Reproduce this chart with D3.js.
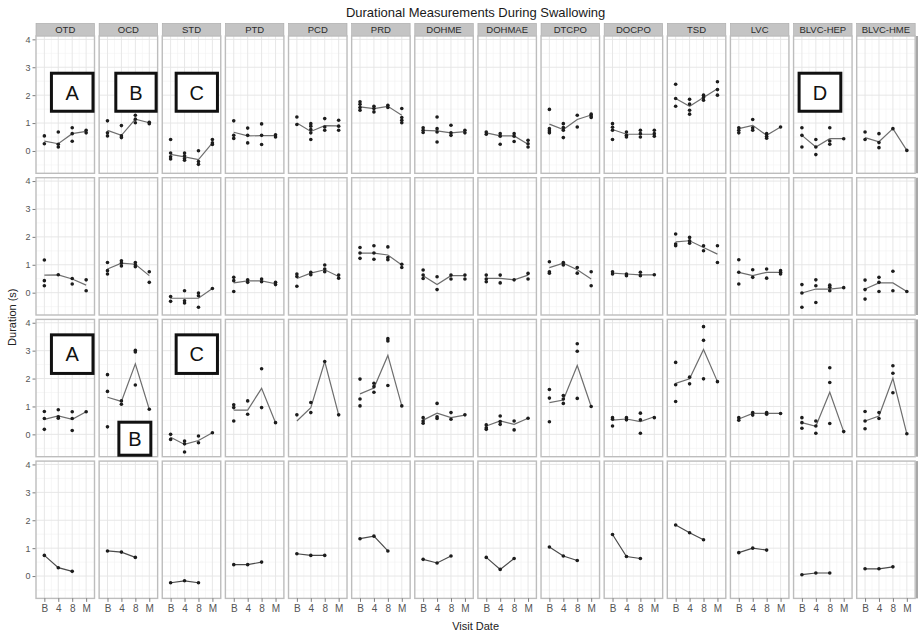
<!DOCTYPE html>
<html>
<head>
<meta charset="utf-8">
<script src="https://cdn.jsdelivr.net/npm/d3@7"></script>
<style>
  html, body { margin: 0; padding: 0; background: #fff; }
  svg { display: block; font-family: "Liberation Sans", Arial, sans-serif; }
</style>
</head>
<body>
<svg id="chart" width="918" height="633"></svg>
<script>
// ---------------- DATA ----------------
const visits = ["B", "4", "8", "M"];
const measures = ["OTD", "OCD", "STD", "PTD", "PCD", "PRD", "DOHME", "DOHMAE", "DTCPO", "DOCPO", "TSD", "LVC", "BLVC-HEP", "BLVC-HME"];
const yTicks = [0, 1, 2, 3, 4];
const title = "Durational Measurements During Swallowing";
const xTitle = "Visit Date";
const yTitle = "Duration (s)";

// individual measurements, per measure -> per visit
const row1Dots = [
  [[0.54, 0.26], [0.68, 0.24, 0.14], [0.83, 0.62, 0.35], [0.74, 0.65]],
  [[1.08, 0.65, 0.54], [0.91, 0.54, 0.48], [1.28, 1.14, 1.01], [1.03, 0.98]],
  [[0.41, -0.07, -0.21, -0.29], [-0.07, -0.17, -0.27, -0.33], [0.01, -0.38, -0.48], [0.41, 0.29, 0.23]],
  [[1.08, 0.56, 0.45], [0.82, 0.56, 0.29], [0.97, 0.56, 0.23], [0.58, 0.50]],
  [[1.22, 0.95], [0.98, 0.89, 0.77, 0.65, 0.41], [1.16, 0.86, 0.74], [1.10, 0.89, 0.74]],
  [[1.76, 1.67, 1.56, 1.46], [1.60, 1.52, 1.40], [1.64, 1.56], [1.52, 1.20, 1.10, 1.01]],
  [[0.83, 0.74, 0.66], [1.22, 0.80, 0.68, 0.32], [0.92, 0.65, 0.56], [0.74, 0.65]],
  [[0.68, 0.60], [0.62, 0.53, 0.24], [0.62, 0.53, 0.34], [0.38, 0.26, 0.14]],
  [[1.49, 0.80, 0.72, 0.65], [0.98, 0.84, 0.74, 0.48], [1.28, 0.86], [1.32, 1.25, 1.20]],
  [[0.98, 0.85, 0.74, 0.41], [0.68, 0.56, 0.50], [0.74, 0.62, 0.50], [0.74, 0.62, 0.53]],
  [[2.39, 1.88, 1.60], [1.85, 1.68, 1.46, 1.32], [2.00, 1.92, 1.82], [2.48, 2.20, 2.00]],
  [[0.83, 0.74, 0.65], [1.13, 0.83, 0.74], [0.62, 0.53, 0.46], [0.86]],
  [[0.83, 0.56, 0.14], [0.41, 0.14, -0.13], [0.83, 0.36, 0.24], [0.44]],
  [[0.68, 0.41], [0.62, 0.30, 0.12], [0.80], [0.02]]
];
const row1Means = [
  [0.35, 0.26, 0.62, 0.70], [0.74, 0.56, 1.14, 1.01], [-0.12, -0.21, -0.31, 0.29], [0.67, 0.54, 0.55, 0.55],
  [1.00, 0.70, 0.91, 0.90], [1.58, 1.52, 1.60, 1.28], [0.74, 0.72, 0.65, 0.69], [0.65, 0.54, 0.54, 0.24],
  [0.96, 0.77, 1.13, 1.29], [0.77, 0.60, 0.60, 0.60], [1.88, 1.60, 1.92, 2.23], [0.80, 0.92, 0.56, 0.86],
  [0.56, 0.14, 0.44, 0.44], [0.48, 0.33, 0.80, 0.02]
];

const row2Dots = [
  [[1.17, 0.43, 0.25], [0.64], [0.51, 0.31], [0.46, 0.07]],
  [[1.08, 0.79, 0.67], [1.14, 1.06, 0.96], [1.08, 1.00, 0.93], [0.75, 0.37]],
  [[-0.14, -0.31], [0.07, -0.29, -0.37], [-0.01, -0.11, -0.52], [0.15]],
  [[0.55, 0.43, 0.04], [0.46, 0.37], [0.49, 0.39], [0.37, 0.29]],
  [[0.67, 0.58, 0.23], [0.73, 0.64], [0.99, 0.85, 0.75], [0.63, 0.52]],
  [[1.62, 1.42, 1.23], [1.68, 1.42, 1.20], [1.64, 1.26, 1.18], [1.02, 0.90]],
  [[0.81, 0.63, 0.51], [0.57, 0.11], [0.63, 0.49], [0.63, 0.49]],
  [[0.63, 0.49, 0.39], [0.63, 0.35], [0.46], [0.69, 0.49]],
  [[1.11, 0.75, 0.70], [1.08, 0.99], [0.90, 0.70], [0.75, 0.25]],
  [[0.75, 0.67], [0.67, 0.61], [0.73, 0.61], [0.64]],
  [[2.10, 1.74, 1.68], [1.98, 1.86, 1.77], [1.68, 1.50], [1.68, 1.08]],
  [[1.18, 0.73, 0.31], [0.82, 0.55], [0.85, 0.52], [0.79, 0.73, 0.67]],
  [[0.29, -0.01, -0.52], [0.46, 0.25, -0.35], [0.27, 0.19, 0.07], [0.18]],
  [[0.45, 0.11, -0.23], [0.55, 0.37, 0.04], [0.77, 0.07], [0.04]]
];
const row2Means = [
  [0.63, 0.64, 0.49, 0.27], [0.85, 1.06, 1.02, 0.61], [-0.20, -0.20, -0.20, 0.15], [0.35, 0.42, 0.42, 0.32],
  [0.51, 0.70, 0.82, 0.58], [1.42, 1.42, 1.35, 0.99], [0.61, 0.29, 0.61, 0.61], [0.51, 0.51, 0.46, 0.63],
  [0.90, 1.06, 0.82, 0.49], [0.70, 0.67, 0.64, 0.64], [1.82, 1.86, 1.62, 1.38], [0.73, 0.61, 0.73, 0.73],
  [-0.01, 0.13, 0.13, 0.18], [0.13, 0.35, 0.35, 0.04]
];

const row3Dots = [
  [[0.82, 0.57, 0.18], [0.88, 0.63, 0.58], [0.81, 0.57, 0.14], [0.81]],
  [[2.14, 1.54, 0.27], [1.20, 1.08], [3.01, 2.95, 1.77], [0.90]],
  [[0.00, -0.18], [-0.24, -0.34, -0.63], [-0.06, -0.30], [0.06]],
  [[1.06, 0.96, 0.48], [1.20, 0.72], [2.35, 0.96], [0.42]],
  [[0.70], [1.14, 0.78], [2.61], [0.70]],
  [[1.98, 1.27, 1.02], [1.83, 1.71, 1.51], [3.43, 3.35, 1.75], [1.02]],
  [[0.60, 0.48, 0.40], [1.11, 0.63, 0.57], [0.78, 0.54], [0.70]],
  [[0.34, 0.24, 0.18], [0.66, 0.46, 0.36], [0.48, 0.16], [0.58]],
  [[1.61, 1.30, 0.45], [1.39, 1.27, 1.11], [3.25, 2.98, 1.29], [1.00]],
  [[0.60, 0.54, 0.30], [0.60, 0.52], [0.76, 0.52, 0.04], [0.60]],
  [[2.58, 1.78, 1.18], [2.05, 1.81], [3.86, 3.37, 1.99], [1.89]],
  [[0.60, 0.51], [0.78, 0.69], [0.78, 0.72], [0.75]],
  [[0.60, 0.42, 0.22], [0.48, 0.30, 0.04], [2.39, 1.86, 0.39], [0.10]],
  [[0.82, 0.48, 0.20], [0.78, 0.57], [2.46, 2.19, 1.49], [0.02]]
];
const row3Means = [
  [0.54, 0.66, 0.54, 0.81], [1.33, 1.18, 2.53, 0.90], [-0.10, -0.36, -0.22, 0.06], [0.87, 0.87, 1.65, 0.42],
  [0.48, 0.96, 2.61, 0.70], [1.45, 1.66, 2.83, 1.02], [0.51, 0.76, 0.60, 0.69], [0.30, 0.48, 0.36, 0.58],
  [1.14, 1.23, 2.47, 1.00], [0.51, 0.55, 0.46, 0.63], [1.83, 1.99, 3.04, 1.89], [0.55, 0.75, 0.75, 0.75],
  [0.42, 0.29, 1.51, 0.10], [0.48, 0.66, 2.01, 0.02]
];

// row 4: single value per visit (no M visit)
const row4Means = [
  [0.74, 0.30, 0.17], [0.90, 0.86, 0.67], [-0.24, -0.17, -0.24], [0.41, 0.41, 0.50],
  [0.80, 0.74, 0.74], [1.34, 1.43, 0.90], [0.60, 0.47, 0.72], [0.67, 0.24, 0.63],
  [1.04, 0.72, 0.56], [1.49, 0.70, 0.63], [1.83, 1.55, 1.30], [0.84, 1.00, 0.93],
  [0.05, 0.11, 0.11], [0.26, 0.26, 0.33]
];

// labelled boxes: row, column, extent in visit-index units (x) and seconds (y)
const boxLabels = ["A", "B", "C", "D", "A", "C", "B"];
const boxRows = [0, 0, 0, 0, 2, 2, 2];
const boxCols = [0, 1, 2, 12, 0, 2, 1];
const boxX = [[1.40, 4.6], [1.49, 4.6], [1.29, 4.47], [0.69, 3.9], [1.40, 4.6], [1.29, 4.47], [1.71, 4.22]];
const boxY = [[2.84, 1.37], [2.84, 1.37], [2.84, 1.37], [2.84, 1.37], [3.62, 2.13], [3.62, 2.13], [0.49, -0.80]];

// ---------------- LAYOUT ----------------
const svg = d3.select("#chart");
const padL = 36, padT = 36, colPitch = 63.13, panelW = 58.5;
const rowH = 137.3, rowGap = 4.4;
const nRows = 4;

const x = d3.scalePoint().domain(visits).range([0, panelW]).padding(0.6);
const xLin = d3.scaleLinear().domain([0.4, 4.6]).range([0, panelW]);
const y = d3.scaleLinear().domain([-0.8, 4.12]).range([rowH, 0]);

const rows = [
  { dots: row1Dots, means: row1Means },
  { dots: row2Dots, means: row2Means },
  { dots: row3Dots, means: row3Means },
  { dots: null, means: row4Means }
];

const dotColor = "#1c1c1c";
const lineColor = "#6e6e6e";
const plotW = 13 * colPitch + panelW;

// title
svg.append("text").attr("x", padL + plotW / 2).attr("y", 16.5)
  .attr("text-anchor", "middle").attr("font-size", 13).attr("fill", "#1a1a1a").text(title);

// strips
measures.forEach((m, c) => {
  const gx = padL + c * colPitch;
  svg.append("rect").attr("x", gx).attr("y", 23.3).attr("width", panelW).attr("height", 13)
    .attr("fill", "#c4c4c4").attr("stroke", "#aaaaaa").attr("stroke-width", 0.6);
  svg.append("text").attr("x", gx + panelW / 2).attr("y", 33.3).attr("text-anchor", "middle")
    .attr("font-size", 9.5).attr("fill", "#2a2a2a").text(m);
});

const minorY = d3.range(-0.5, 4.01, 1);
const minorX = [1.5, 2.5, 3.5];

for (let r = 0; r < nRows; r++) {
  const gy = padT + r * (rowH + rowGap);
  const rowData = rows[r];

  // y axis
  const yAxis = svg.append("g").attr("transform", `translate(${padL},${gy})`)
    .call(d3.axisLeft(y).tickValues(yTicks).tickFormat(d3.format("d")).tickSize(3.5).tickPadding(2));
  yAxis.select(".domain").remove();
  yAxis.selectAll("line").attr("stroke", "#5a5a5a").attr("stroke-width", 0.8);
  yAxis.selectAll("text").attr("font-size", 9).attr("fill", "#555")
    .attr("font-family", "Liberation Sans, Arial, sans-serif");

  // right-edge cut strip
  svg.append("rect").attr("x", 916).attr("y", gy).attr("width", 2.5).attr("height", rowH).attr("fill", "#a8a8a8");

  measures.forEach((m, c) => {
    const gx = padL + c * colPitch;
    const g = svg.append("g").attr("transform", `translate(${gx},${gy})`);
    g.append("rect").attr("width", panelW).attr("height", rowH).attr("fill", "#fff");

    // minor grid
    g.selectAll(".minY").data(minorY).join("line")
      .attr("x1", 0).attr("x2", panelW).attr("y1", d => y(d)).attr("y2", d => y(d))
      .attr("stroke", "#f1f1f1").attr("stroke-width", 0.6);
    g.selectAll(".minX").data(minorX).join("line")
      .attr("y1", 0).attr("y2", rowH).attr("x1", d => xLin(d)).attr("x2", d => xLin(d))
      .attr("stroke", "#f1f1f1").attr("stroke-width", 0.6);
    // major grid
    g.selectAll(".majY").data(yTicks).join("line")
      .attr("x1", 0).attr("x2", panelW).attr("y1", d => y(d)).attr("y2", d => y(d))
      .attr("stroke", "#e4e4e4").attr("stroke-width", 0.9);
    g.selectAll(".majX").data(visits).join("line")
      .attr("y1", 0).attr("y2", rowH).attr("x1", d => x(d)).attr("x2", d => x(d))
      .attr("stroke", "#e4e4e4").attr("stroke-width", 0.9);

    // mean line
    const means = rowData.means[c];
    const linePts = means.map((v, i) => [visits[i], v]);
    g.append("path").datum(linePts)
      .attr("d", d3.line().x(d => x(d[0])).y(d => y(d[1])))
      .attr("fill", "none").attr("stroke", r === 3 ? "#4a4a4a" : lineColor)
      .attr("stroke-width", 1.2);

    // dots
    let dotPts;
    if (rowData.dots) {
      dotPts = [];
      rowData.dots[c].forEach((vals, i) => vals.forEach(v => dotPts.push([visits[i], v])));
    } else {
      dotPts = linePts;
    }
    g.selectAll(".dot").data(dotPts).join("circle")
      .attr("cx", d => x(d[0])).attr("cy", d => y(d[1])).attr("r", 1.8).attr("fill", dotColor);

    // border
    g.append("rect").attr("x", 0).attr("y", 0).attr("width", panelW).attr("height", rowH)
      .attr("fill", "none").attr("stroke", "#bdbdbd").attr("stroke-width", 1.4);

    // x axis on bottom row
    if (r === nRows - 1) {
      const xa = svg.append("g").attr("transform", `translate(${gx},${gy + rowH})`)
        .call(d3.axisBottom(x).tickSize(3.5).tickPadding(3));
      xa.select(".domain").remove();
      xa.selectAll("line").attr("stroke", "#5a5a5a").attr("stroke-width", 0.8);
      xa.selectAll("text").attr("font-size", 10).attr("fill", "#555")
        .attr("font-family", "Liberation Sans, Arial, sans-serif");
    }
  });
}

// annotation boxes
boxLabels.forEach((lab, i) => {
  const gx = padL + boxCols[i] * colPitch;
  const gy = padT + boxRows[i] * (rowH + rowGap);
  const x0 = gx + xLin(boxX[i][0]), x1 = gx + xLin(boxX[i][1]);
  const y0 = gy + y(boxY[i][0]), y1 = gy + y(boxY[i][1]);
  svg.append("rect").attr("x", x0 + 1.5).attr("y", y0 + 1.5)
    .attr("width", x1 - x0 - 3).attr("height", y1 - y0 - 3)
    .attr("fill", "#fff").attr("stroke", "#111").attr("stroke-width", 3);
  svg.append("text").attr("x", (x0 + x1) / 2).attr("y", (y0 + y1) / 2 + 7.3)
    .attr("text-anchor", "middle").attr("font-size", 20).attr("fill", "#111").text(lab);
});

// axis titles
const plotBottom = padT + nRows * rowH + (nRows - 1) * rowGap;
svg.append("text").attr("x", padL + plotW / 2).attr("y", 630)
  .attr("text-anchor", "middle").attr("font-size", 11).attr("fill", "#222").text(xTitle);
svg.append("text").attr("transform", `translate(16,${(padT + plotBottom) / 2}) rotate(-90)`)
  .attr("text-anchor", "middle").attr("font-size", 11).attr("fill", "#222").text(yTitle);
</script>
</body>
</html>
